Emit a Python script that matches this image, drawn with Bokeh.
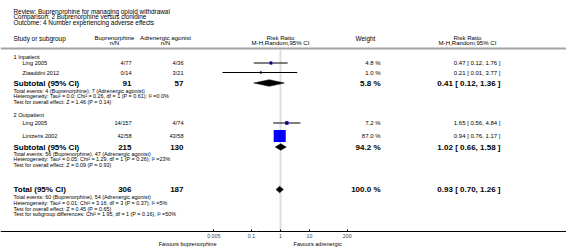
from bokeh.plotting import figure
from bokeh.models import Range1d, LogScale, LogAxis, FixedTicker, CustomJSTickFormatter
from bokeh.core.properties import value
from bokeh.embed import file_html
from bokeh.resources import INLINE

# ---------------- data ----------------
title_lines = [
    "Review:  Buprenorphine for managing opioid withdrawal",
    "Comparison:  2 Buprenorphine versus clonidine",
    "Outcome:  4 Number experiencing adverse effects",
]
group_names = ["1 Inpatient", "2 Outpatient"]
study_names = ["Ling 2005", "Ziaaddini 2012", "Ling 2005", "Lintzeris 2002"]
study_group = [0, 0, 1, 1]
bup_events = [4, 0, 14, 42]
bup_total = [77, 14, 157, 58]
adr_events = [4, 3, 4, 43]
adr_total = [36, 21, 74, 58]
study_weight = [4.8, 1.0, 7.2, 87.0]
study_rr = [0.47, 0.21, 1.65, 0.94]
study_lo = [0.12, 0.01, 0.56, 0.76]
study_hi = [1.76, 3.77, 4.84, 1.17]

pooled_names = ["Subtotal (95% CI)", "Subtotal (95% CI)", "Total (95% CI)"]
pooled_bup_n = [91, 215, 306]
pooled_adr_n = [57, 130, 187]
pooled_weight = [5.8, 94.2, 100.0]
pooled_rr = [0.41, 1.02, 0.93]
pooled_lo = [0.12, 0.66, 0.70]
pooled_hi = [1.36, 1.58, 1.26]
pooled_notes = [
    ["Total events: 4 (Buprenorphine), 7 (Adrenergic agonist)",
     "Heterogeneity: Tau\u00b2 = 0.0; Chi\u00b2 = 0.26, df = 1 (P = 0.61); I\u00b2 =0.0%",
     "Test for overall effect: Z = 1.46 (P = 0.14)"],
    ["Total events: 56 (Buprenorphine), 47 (Adrenergic agonist)",
     "Heterogeneity: Tau\u00b2 = 0.05; Chi\u00b2 = 1.29, df = 1 (P = 0.26); I\u00b2 =23%",
     "Test for overall effect: Z = 0.09 (P = 0.93)"],
    ["Total events: 60 (Buprenorphine), 54 (Adrenergic agonist)",
     "Heterogeneity: Tau\u00b2 = 0.01; Chi\u00b2 = 3.16, df = 3 (P = 0.37); I\u00b2 =5%",
     "Test for overall effect: Z = 0.45 (P = 0.65)",
     "Test for subgroup differences: Chi\u00b2 = 1.95, df = 1 (P = 0.16), I\u00b2 =50%"],
]
header_cols = [("Buprenorphine", "n/N"), ("Adrenergic agonist", "n/N"),
               ("Risk Ratio", "M-H,Random,95% CI"), ("Weight", ""),
               ("Risk Ratio", "M-H,Random,95% CI")]
tick_values = [0.005, 0.1, 1, 10, 200]
tick_labels = ["0.005", "0.1", "1", "10", "200"]
favours_labels = ["Favours buprenorphine", "Favours adrenergic"]

# ---------------- layout ----------------
W, H = 566, 248
AXIS_Y = 231
X_ONE, DECADE = 280, 29.0
FONT_NAME = "Liberation Sans"
FONT = value(FONT_NAME)

title_y = [11, 16.3, 21.6]
head_y = [36.5, 42]
sep_y = 48
group_y = [56, 114]
study_y = [62.5, 72, 122.5, 135.5]
pooled_y = [82.5, 146.5, 189]
notes_y = [[90, 95.8, 101.6], [153, 158.8, 164.6], [196.5, 202.3, 208.1, 213.9]]
tick_label_y_gap = 2
favours_y = 243

X_TEXT, X_STUDY = 13, 22
X_BUP_R, X_BUP_C = 131, 114
X_ADR_R, X_ADR_C = 183, 165
X_FOREST_C = 280
X_W_R, X_W_C = 380, 365
X_RR_R, X_RR_C = 500, 467
X_FAV_L, X_FAV_R = 216, 293

FS_TITLE, FS_HEAD, FS_BODY, FS_NUM, FS_NOTE, FS_BOLD = "6.4px", "6.1px", "5.6px", "6px", "5.4px", "8px"
FS_FAV = "5.6px"

rr_start = 10 ** ((0 - X_ONE) / DECADE)
rr_end = 10 ** ((W - X_ONE) / DECADE)

p = figure(width=W, height=H, x_range=Range1d(0, W), y_range=Range1d(H, 0),
           x_axis_type=None, y_axis_type=None, output_backend="svg", toolbar_location=None,
           min_border=0, min_border_left=0, min_border_right=0, min_border_top=0,
           min_border_bottom=0)
p.outline_line_color = None
p.xgrid.visible = False
p.ygrid.visible = False
p.background_fill_color = "white"
p.border_fill_color = "white"
p.extra_x_ranges = {"rr": Range1d(rr_start, rr_end)}
p.extra_x_scales = {"rr": LogScale()}


def txt(x, y, s, size, align="left", bold=False, color="black"):
    p.text(x=[x], y=[y], text=[s], text_font=FONT, text_font_size=size,
           text_align=align, text_baseline="middle", text_color=color,
           text_font_style="bold" if bold else "normal")


# titles
for s, y in zip(title_lines, title_y):
    txt(X_TEXT, y, s, FS_TITLE)

# headers
txt(X_TEXT, head_y[0] + 1, "Study or subgroup", FS_TITLE)
for (a, b), xc in zip(header_cols, [X_BUP_C, X_ADR_C, X_FOREST_C, X_W_C, X_RR_C]):
    if b:
        txt(xc, head_y[0], a, FS_HEAD, "center")
        txt(xc, head_y[1], b, FS_HEAD, "center")
    else:
        txt(xc, head_y[0] + 1, a, FS_TITLE, "center")

p.segment(x0=[0], x1=[W], y0=[sep_y], y1=[sep_y], line_color="#a3a3a3", line_width=2)

# null line
p.segment(x0=[1], x1=[1], y0=[sep_y + 1], y1=[AXIS_Y], x_range_name="rr",
          line_color="#dedede", line_width=2)

# groups
for g, y in zip(group_names, group_y):
    txt(X_TEXT, y, g, FS_BODY)

# studies
for i, name in enumerate(study_names):
    y = study_y[i]
    txt(X_STUDY, y, name, FS_BODY)
    txt(X_BUP_R, y, f"{bup_events[i]}/{bup_total[i]}", FS_BODY, "right")
    txt(X_ADR_R, y, f"{adr_events[i]}/{adr_total[i]}", FS_BODY, "right")
    txt(X_W_R, y, f"{study_weight[i]:.1f} %", FS_NUM, "right")
    txt(X_RR_R, y, f"{study_rr[i]:.2f} [ {study_lo[i]:.2f}, {study_hi[i]:.2f} ]", FS_NUM, "right")

p.segment(x0=study_lo, x1=study_hi, y0=study_y, y1=study_y, x_range_name="rr",
          line_color="black", line_width=1)
sides = [1.29 * w ** 0.5 for w in study_weight]
p.rect(x=study_rr, y=study_y, width=sides, height=sides, width_units="screen",
       height_units="screen", x_range_name="rr", fill_color="#0000ff", line_color=None)
p.segment(x0=study_rr, x1=study_rr, y0=[y - 1.5 for y in study_y], y1=[y + 1.5 for y in study_y],
          x_range_name="rr", line_color="black", line_width=1)

# pooled
for i, name in enumerate(pooled_names):
    y = pooled_y[i]
    txt(X_TEXT, y, name, FS_BOLD, bold=True)
    txt(X_BUP_R, y, f"{pooled_bup_n[i]}", FS_BOLD, "right", True)
    txt(X_ADR_R, y, f"{pooled_adr_n[i]}", FS_BOLD, "right", True)
    txt(X_W_R, y, f"{pooled_weight[i]:.1f} %", FS_BOLD, "right", True)
    txt(X_RR_R, y, f"{pooled_rr[i]:.2f} [ {pooled_lo[i]:.2f}, {pooled_hi[i]:.2f} ]", FS_BOLD, "right", True)
    for s, yy in zip(pooled_notes[i], notes_y[i]):
        txt(X_TEXT, yy, s, FS_NOTE)

HALF = 3.3
p.patches(xs=[[lo, m, hi, m] for lo, m, hi in zip(pooled_lo, pooled_rr, pooled_hi)],
          ys=[[y, y - HALF, y, y + HALF] for y in pooled_y], x_range_name="rr",
          fill_color="black", line_color="black", line_width=0.5)

# axis (drawn inside the canvas at a fixed y position)
ax = LogAxis(x_range_name="rr", ticker=FixedTicker(ticks=tick_values, minor_ticks=[]),
             formatter=CustomJSTickFormatter(code="return tick.toString()"),
             major_label_overrides={v: s for v, s in zip(tick_values, tick_labels)},
             fixed_location=AXIS_Y,
             axis_line_color="black", axis_line_width=1, major_tick_in=2, major_tick_out=0,
             minor_tick_in=0, minor_tick_out=0, major_label_standoff=tick_label_y_gap,
             major_label_text_font=FONT_NAME, major_label_text_font_size="5.3px")
p.add_layout(ax, "below")

txt(X_FAV_L, favours_y, favours_labels[0], FS_FAV, "right")
txt(X_FAV_R, favours_y, favours_labels[1], FS_FAV, "left")

open("out.html", "w").write(file_html(p, INLINE))
